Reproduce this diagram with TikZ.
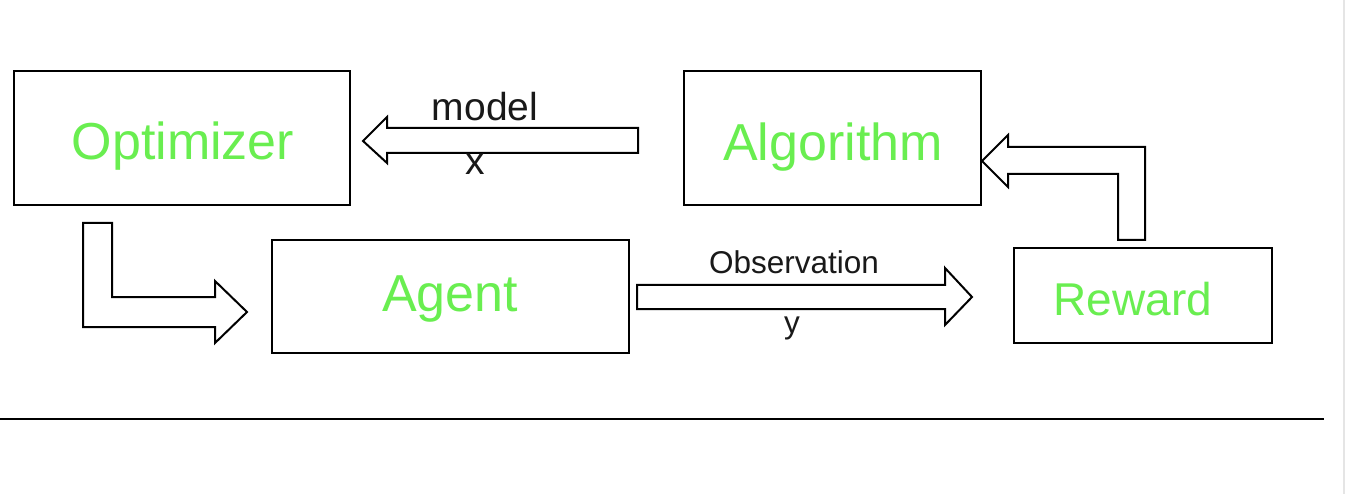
\documentclass[tikz,border=0pt]{standalone}
\usepackage{fontspec}
\setmainfont{Liberation Sans}
\definecolor{lblgreen}{RGB}{105,238,80}
\begin{document}
\begin{tikzpicture}[x=1pt,y=-1pt,
  box/.style={draw=black,line width=2pt},
  blockarrow/.style={draw=black,line width=2pt,fill=white,line join=miter},
  boxtext/.style={text=lblgreen,anchor=base,inner sep=0pt,font=\fontsize{52}{60}\selectfont},
  lbl/.style={text=black!90,anchor=base,inner sep=0pt}]
\useasboundingbox (0,0) rectangle (1346,494);
\fill[white] (0,0) rectangle (1346,494);
\draw[black!10,line width=1.5pt] (1344,0) -- (1344,494);
% boxes
\draw[box] (14,71) rectangle (350,205);
\draw[box] (684,71) rectangle (981,205);
\draw[box] (272,240) rectangle (629,353);
\draw[box] (1014,248) rectangle (1272,343);
\node[boxtext] (opt) at (183,160) {Optimizer};
\node[boxtext] (alg) at (833,161) {Algorithm};
\node[boxtext] (agt) at (450,311) {Agent};
\node[boxtext,font=\fontsize{46}{54}\selectfont] (rew) at (1133,315) {Reward};
% model arrow (Algorithm -> Optimizer)
\draw[blockarrow] (638,128) -- (387,128) -- (387,117) -- (363,141) -- (387,163) -- (387,153) -- (638,153) -- cycle;
\node[lbl,font=\fontsize{39}{45}\selectfont] (model) at (485,121) {model};
\node[lbl,font=\fontsize{39}{45}\selectfont] (xl) at (475,175) {x};
% L arrow (Optimizer -> Agent)
\draw[blockarrow] (83,223) -- (112,223) -- (112,297) -- (215,297) -- (215,281) -- (247,312) -- (215,343) -- (215,327) -- (83,327) -- cycle;
% Observation arrow (Agent -> Reward)
\draw[blockarrow] (637,285) -- (945,285) -- (945,268) -- (972,297) -- (945,325) -- (945,309) -- (637,309) -- cycle;
\node[lbl,font=\fontsize{31.5}{37}\selectfont] (obs) at (794,273) {Observation};
\node[lbl,font=\fontsize{31.5}{37}\selectfont] (yl) at (792,333) {y};
% Reward -> Algorithm arrow
\draw[blockarrow] (1118,240) -- (1145,240) -- (1145,147) -- (1008,147) -- (1008,135) -- (982,161) -- (1008,187) -- (1008,174) -- (1118,174) -- cycle;
% bottom rule
\draw[black,line width=2pt] (0,419) -- (1324,419);
\end{tikzpicture}
\end{document}
